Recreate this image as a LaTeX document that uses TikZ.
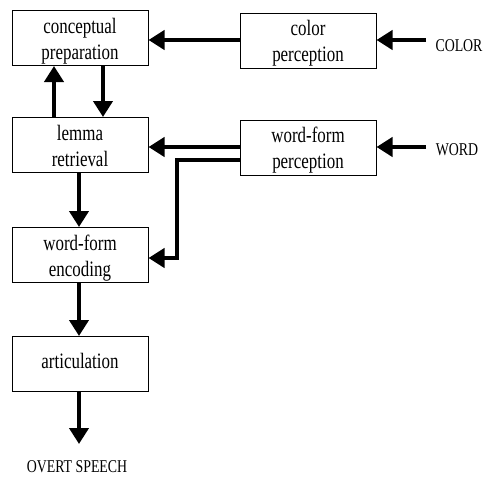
\documentclass[tikz,border=0pt]{standalone}
\usepackage{fontspec}
\setmainfont[FakeStretch=0.77]{Liberation Serif}
\usetikzlibrary{arrows.meta}
\begin{document}
\begin{tikzpicture}[x=1pt,y=-1pt,
  box/.style={draw,line width=1pt,minimum width=136pt,minimum height=55pt,inner sep=0pt,align=center,font=\fontsize{22}{26}\selectfont,text height=48pt,text depth=6pt},
  box1/.style={box,text height=15pt,text depth=7pt},
  conn/.style={line width=4pt,-{Triangle[length=16pt,width=19pt]}},
  lbl/.style={font=\fontsize{18}{20}\selectfont,inner sep=0pt}]
\useasboundingbox (0,0) rectangle (483,477);
\node[box] (concept) at (80,38) {conceptual\\preparation};
\node[box] (color) at (308,40.5) {color\\perception};
\node[box] (lemma) at (80,145) {lemma\\retrieval};
\node[box] (wfp) at (308,147.5) {word-form\\perception};
\node[box] (wfe) at (80,255) {word-form\\encoding};
\node[box1] (artic) at (80,364) {articulation};
\node[lbl] (colortxt) at (459,45.5) {COLOR};
\node[lbl] (wordtxt) at (457,150) {WORD};
\node[lbl] (overt) at (77,467) {OVERT SPEECH};
\coordinate (cin) at (426,40);
\coordinate (win) at (426,147);
\coordinate (out) at (80,444);
\coordinate (bend1) at (177,160);
\coordinate (bend2) at (177,258);
\draw[conn] (cin) -- (cin -| color.east);
\draw[conn] (win) -- (win -| wfp.east);
\draw[conn] (color.west |- 0,40) -- (concept.east |- 0,40);
\draw[conn] (lemma.north -| 54,0) -- (concept.south -| 54,0);
\draw[conn] (concept.south -| 103,0) -- (lemma.north -| 103,0);
\draw[conn] (wfp.west |- 0,147) -- (lemma.east |- 0,147);
\draw[conn] (wfp.west |- bend1) -- (bend1) -- (bend2) -- (bend2 -| wfe.east);
\draw[conn] (lemma.south -| 79,0) -- (wfe.north -| 79,0);
\draw[conn] (wfe.south -| 79,0) -- (artic.north -| 79,0);
\draw[conn] (artic.south -| 79,0) -- (out -| 79,0);
\end{tikzpicture}
\end{document}
